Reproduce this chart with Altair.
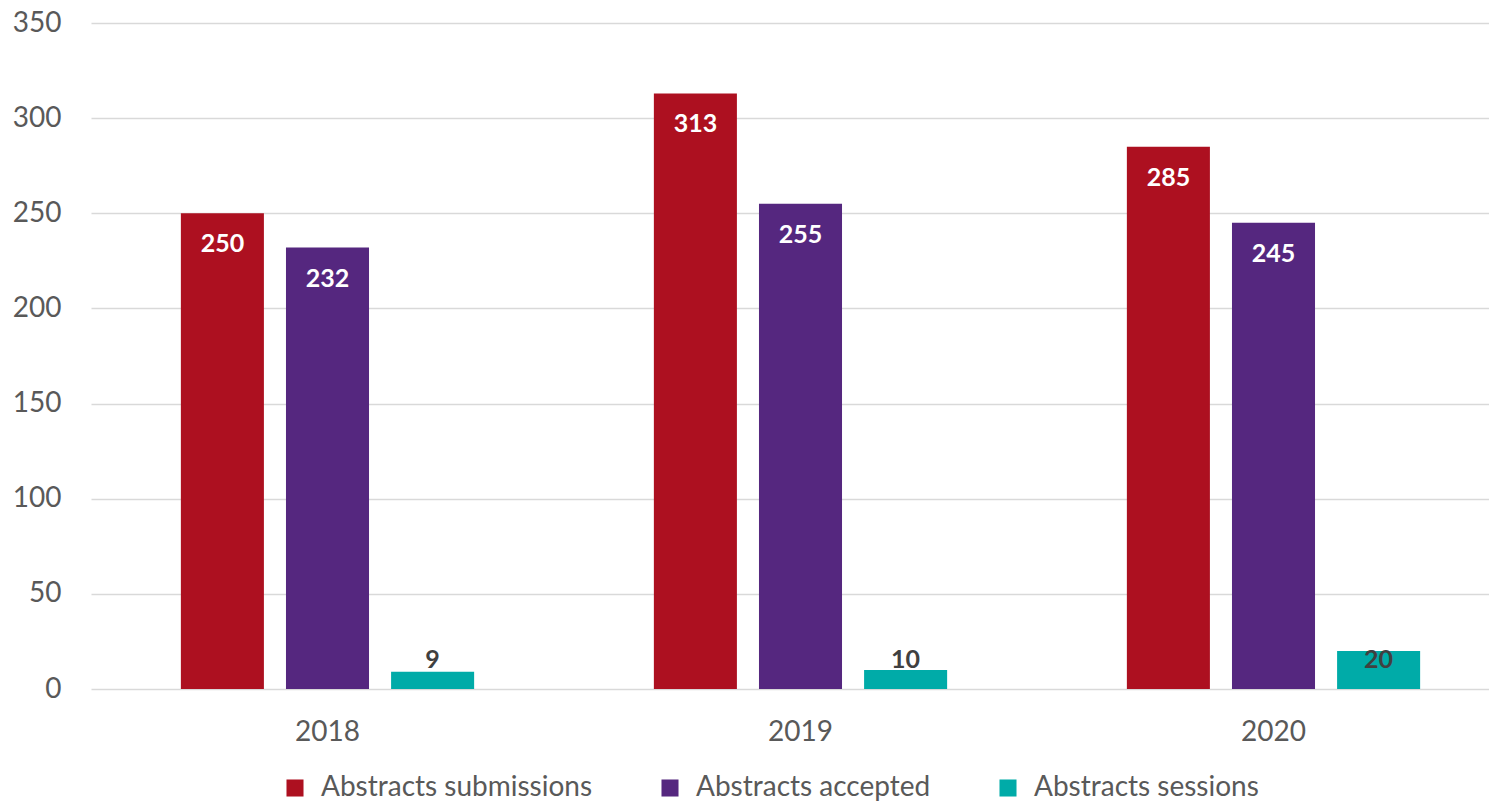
import altair as alt
import pandas as pd

years = ["2018", "2019", "2020"]
series = ["Abstracts submissions", "Abstracts accepted", "Abstracts sessions"]
submissions = [250, 313, 285]
accepted = [232, 255, 245]
sessions = [9, 10, 20]
colors = ["#AD1020", "#55277F", "#00ABA8"]
y_ticks = [0, 50, 100, 150, 200, 250, 300, 350]

rows = []
for s, vals in zip(series, [submissions, accepted, sessions]):
    for yr, v in zip(years, vals):
        rows.append({"year": yr, "series": s, "value": v})
df = pd.DataFrame(rows)

FONT = "Lato"
GRAY = "#595959"

x = alt.X(
    "year:N", title=None, sort=years,
    scale=alt.Scale(range=[0, 1419], paddingInner=0.38, paddingOuter=0.19),
    axis=alt.Axis(labelAngle=0, labelFontSize=28, labelColor=GRAY, labelFont=FONT,
                  ticks=False, domain=False, labelPadding=29, grid=False),
)
xo = alt.XOffset("series:N", sort=series,
                 scale=alt.Scale(paddingInner=0.21, paddingOuter=0))
y = alt.Y(
    "value:Q", title=None,
    scale=alt.Scale(domain=[0, 350], nice=False),
    axis=alt.Axis(values=y_ticks, labelFontSize=28, labelColor=GRAY, labelFont=FONT,
                  ticks=False, domain=False, labelPadding=30, grid=True,
                  gridColor="#D9D9D9", gridWidth=1.5),
)

bars = alt.Chart(df).mark_bar().encode(
    x=x, xOffset=xo, y=y,
    color=alt.Color(
        "series:N", sort=series,
        scale=alt.Scale(domain=series, range=colors),
        legend=alt.Legend(
            orient="none", legendX=190, legendY=751, direction="horizontal",
            title=None, symbolType="square", symbolSize=290, symbolStrokeWidth=0,
            labelFontSize=28, labelFont=FONT, labelColor=GRAY, labelLimit=0,
            labelOffset=12, columnPadding=63,
        ),
    ),
)

inside = alt.Chart(df).transform_filter(
    alt.datum.series != "Abstracts sessions"
).mark_text(font=FONT, fontWeight="bold", fontSize=25, color="white",
            baseline="middle", dy=31).encode(
    x=x, xOffset=xo, y=alt.Y("value:Q"), text="value:Q"
)

outside = alt.Chart(df).transform_filter(
    alt.datum.series == "Abstracts sessions"
).mark_text(font=FONT, fontWeight="bold", fontSize=25, color="#404040",
            baseline="middle").encode(
    x=x, xOffset=xo, y=alt.datum(15), text="value:Q"
)

chart = alt.layer(bars, inside, outside).properties(
    width=1390, height=666,
    padding={"left": 83, "top": 15, "right": 8, "bottom": 115},
    autosize=alt.AutoSizeParams(type="none"),
).configure_view(stroke=None)

chart.save("out.html", embed_options={"renderer": "svg", "actions": False})
